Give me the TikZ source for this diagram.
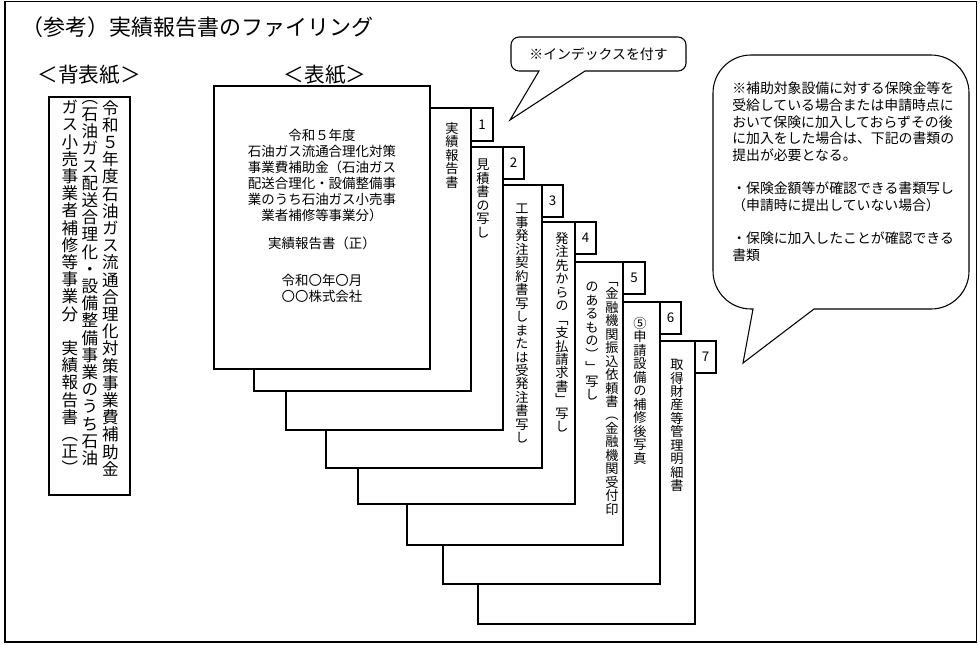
\documentclass[tikz,border=0pt]{standalone}
\usepackage{fontspec}
\setmainfont{Noto Sans CJK JP}
\newfontfamily\vjp[RawFeature=+vert]{Noto Sans CJK JP}
\ExplSyntaxOn
\NewDocumentCommand{\vstack}{O{1em}m}
  {
    \vbox:n
      {
        \baselineskip=#1\relax
        \lineskiplimit=-\maxdimen
        \lineskip=0pt
        \tl_map_inline:nn {#2} { \hbox_to_wd:nn {1em} { \hss ##1 \hss } }
      }
  }
\ExplSyntaxOff
\tikzset{
  frame/.style={draw=black, line width=1pt},
  sheet/.style={draw=black, line width=0.8pt, fill=white},
  tabbox/.style={draw=black, line width=0.8pt, fill=white},
  tabnum/.style={inner sep=0pt, font=\fontsize{10}{12}\selectfont},
  vlabel/.style={inner sep=0pt, anchor=north, font=\vjp\fontsize{9.9}{10}\selectfont},
  spinecol/.style={inner sep=0pt, anchor=north, font=\vjp\fontsize{12.4}{13}\selectfont},
  covertext/.style={inner sep=0pt, align=center, font=\fontsize{10.1}{12}\selectfont},
  titletext/.style={inner sep=0pt, font=\fontsize{16.5}{19}\selectfont},
  heading/.style={inner sep=0pt, font=\fontsize{15.5}{18}\selectfont},
  bubble/.style={draw=black, line width=0.8pt, fill=white},
  bubbletext/.style={inner sep=0pt, align=left, font=\fontsize{10.4}{12.5}\selectfont},
}
\begin{document}
\begin{tikzpicture}[x=0.75pt,y=-0.75pt]
\useasboundingbox (0,0) rectangle (980,644);
\draw[frame] (5,1.5) rectangle (976.5,642);

\node[titletext, anchor=west] (title) at (21,27) {（参考）実績報告書のファイリング};
\node[heading] (hspine) at (89,75) {＜背表紙＞};
\node[heading] (hcover) at (325,75) {＜表紙＞};

% spine
\draw[sheet] (49,97) rectangle (130,495);
\node[spinecol] (sp1) at (110.5,100) {\vstack[12.9pt]{令和５年度石油ガス流通合理化対策事業費補助金}};
\node[spinecol] (sp2) at (90,100) {\vstack[12.9pt]{︵石油ガス配送合理化・設備整備事業のうち石油}};
\node[spinecol] (sp3) at (70,100) {\vstack[12.9pt]{ガス小売事業者補修等事業分　実績報告書︵正︶}};

% sheets, back to front
\draw[sheet] (478,341) rectangle (695,624);
\draw[tabbox] (695,341) rectangle (716,373);
\node[tabnum] (n7) at (705.5,357) {7};
\draw[sheet] (443,302) rectangle (660,584);
\draw[tabbox] (660,302) rectangle (681,334);
\node[tabnum] (n6) at (670.5,318) {6};
\draw[sheet] (407,262) rectangle (623,545);
\draw[tabbox] (623,262) rectangle (645,294);
\node[tabnum] (n5) at (634,278) {5};
\draw[sheet] (358,222) rectangle (575,504);
\draw[tabbox] (575,222) rectangle (596,254);
\node[tabnum] (n4) at (585.5,238) {4};
\draw[sheet] (326,185) rectangle (542,468);
\draw[tabbox] (542,185) rectangle (563,217);
\node[tabnum] (n3) at (552.5,201) {3};
\draw[sheet] (286,147) rectangle (503,430);
\draw[tabbox] (503,147) rectangle (524,179);
\node[tabnum] (n2) at (513.5,163) {2};
\draw[sheet] (254,108) rectangle (471,391);
\draw[tabbox] (471,108) rectangle (493,141);
\node[tabnum] (n1) at (482,124.5) {1};
\draw[sheet] (214,86) rectangle (430,369);

% cover text
\node[covertext] (c1) at (322,175) {令和５年度\\石油ガス流通合理化対策\\事業費補助金（石油ガス\\配送合理化・設備整備事\\業のうち石油ガス小売事\\業者補修等事業分）};
\node[covertext] (c2) at (322,243) {実績報告書（正）};
\node[covertext] (c3) at (322,288) {令和〇年〇月\\〇〇株式会社};

% vertical labels on sheets
\node[vlabel] (t1) at (452,122) {\vstack[10.1pt]{実績報告書}};
\node[vlabel] (t2) at (483,159) {\vstack[10.1pt]{見積書の写し}};
\node[vlabel] (t3) at (522,204) {\vstack[10.1pt]{工事発注契約書写しまたは受発注書写し}};
\node[vlabel] (t4) at (562,232) {\vstack[10.1pt]{発注先からの﹁支払請求書﹂写し}};
\node[vlabel] (t5a) at (612,282) {\vstack[10.1pt]{﹁金融機関振込依頼書︵金融機関受付印}};
\node[vlabel] (t5b) at (592,282) {\vstack[10.1pt]{のあるもの︶﹂写し}};
\node[vlabel] (t6) at (640,317) {\vstack[10.1pt]{⑤申請設備の補修後写真}};
\node[vlabel] (t7) at (677,359) {\vstack[10.1pt]{取得財産等管理明細書}};

% index bubble
\draw[bubble] (539,71) -- (510,120) -- (585,71) -- (678,71)
  arc[start angle=90, end angle=0, radius=8] -- (686,45)
  arc[start angle=0, end angle=-90, radius=8] -- (519,37)
  arc[start angle=270, end angle=180, radius=8] -- (511,63)
  arc[start angle=180, end angle=90, radius=8] -- cycle;
\node[bubbletext] (b1) at (598.5,54) {※インデックスを付す};

% note bubble
\draw[bubble] (753,309) -- (743,363) -- (814,309) -- (931,309)
  arc[start angle=90, end angle=0, radius=38] -- (969,93)
  arc[start angle=0, end angle=-90, radius=38] -- (751,55)
  arc[start angle=270, end angle=180, radius=38] -- (713,271)
  arc[start angle=180, end angle=90, radius=38] -- cycle;
\node[bubbletext, anchor=north west] (b2) at (732,82) {※補助対象設備に対する保険金等を\\受給している場合または申請時点に\\おいて保険に加入しておらずその後\\に加入をした場合は、下記の書類の\\提出が必要となる。\\[12.5pt]・保険金額等が確認できる書類写し\\（申請時に提出していない場合）\\[12.5pt]・保険に加入したことが確認できる\\書類};
\end{tikzpicture}
\end{document}
